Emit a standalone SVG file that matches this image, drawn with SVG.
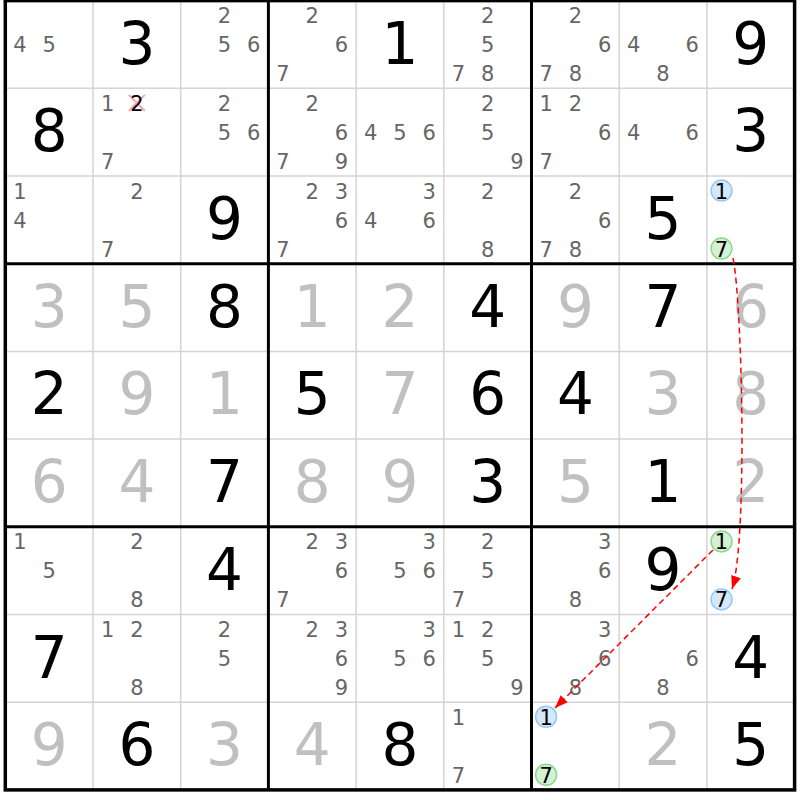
<svg xmlns="http://www.w3.org/2000/svg" width="800" height="800" viewBox="0 0 800 800">
<style>
text{font-family:"DejaVu Sans","Verdana",sans-serif;text-anchor:middle}
.g{font-size:58px;fill:#000}
.s{font-size:58px;fill:#c0c0c0}
.c{font-size:21px;fill:#666}
.k{font-size:21px;fill:#000}
.thin{stroke:#d4d4d4;stroke-width:1.5}
.thick{stroke:#000;stroke-width:3}
.cb{fill:#d5e8fb;stroke:#98c8f4;stroke-width:1.5}
.cg{fill:#d3f1d3;stroke:#8fd68f;stroke-width:1.5}
.lnk{fill:none;stroke:#f00;stroke-width:1.5;stroke-dasharray:6 4}
</style>
<defs>
<marker id="ah" markerUnits="userSpaceOnUse" markerWidth="14" markerHeight="10" refX="13" refY="5" orient="auto">
<path d="M0,0 L13,5 L0,10 z" fill="#f00"/>
</marker>
</defs>
<rect x="0" y="0" width="800" height="800" fill="#fff"/>
<g id="grid">
<path class="thin" d="M93,0.6V789.9M180.7,0.6V789.9M356.1,0.6V789.9M443.8,0.6V789.9M619.2,0.6V789.9M706.9,0.6V789.9M5.3,88.3H794.6M5.3,176H794.6M5.3,351.4H794.6M5.3,439.1H794.6M5.3,614.5H794.6M5.3,702.2H794.6"/>
<path class="thick" d="M268.4,0.6V789.9M531.5,0.6V789.9M5.3,263.7H794.6M5.3,526.8H794.6"/>
<rect x="5.3" y="0.6" width="789.3" height="789.3" fill="none" stroke="#000" stroke-width="3.5"/>
</g>
<!-- Row 1 -->
<g id="r1c1" transform="translate(5.3,0.6)"><text class="c" x="14.6" y="51.6">4</text><text class="c" x="43.85" y="51.6">5</text></g>
<g id="r1c2" transform="translate(93,0.6)"><text class="g" x="43.85" y="63">3</text></g>
<g id="r1c3" transform="translate(180.7,0.6)"><text class="c" x="43.85" y="22.6">2</text><text class="c" x="43.85" y="51.6">5</text><text class="c" x="73.1" y="51.6">6</text></g>
<g id="r1c4" transform="translate(268.4,0.6)"><text class="c" x="43.85" y="22.6">2</text><text class="c" x="73.1" y="51.6">6</text><text class="c" x="14.6" y="80.6">7</text></g>
<g id="r1c5" transform="translate(356.1,0.6)"><text class="g" x="43.85" y="63">1</text></g>
<g id="r1c6" transform="translate(443.8,0.6)"><text class="c" x="43.85" y="22.6">2</text><text class="c" x="43.85" y="51.6">5</text><text class="c" x="14.6" y="80.6">7</text><text class="c" x="43.85" y="80.6">8</text></g>
<g id="r1c7" transform="translate(531.5,0.6)"><text class="c" x="43.85" y="22.6">2</text><text class="c" x="73.1" y="51.6">6</text><text class="c" x="14.6" y="80.6">7</text><text class="c" x="43.85" y="80.6">8</text></g>
<g id="r1c8" transform="translate(619.2,0.6)"><text class="c" x="14.6" y="51.6">4</text><text class="c" x="73.1" y="51.6">6</text><text class="c" x="43.85" y="80.6">8</text></g>
<g id="r1c9" transform="translate(706.9,0.6)"><text class="g" x="43.85" y="63">9</text></g>
<!-- Row 2 -->
<g id="r2c1" transform="translate(5.3,88.3)"><text class="g" x="43.85" y="63">8</text></g>
<g id="r2c2" transform="translate(93,88.3)"><text class="c" x="14.6" y="22.6">1</text><path d="M35.85,6.6L51.85,22.6M51.85,6.6L35.85,22.6" stroke="#f4a2ac" stroke-width="2"/><text class="k" x="43.85" y="22.6">2</text><text class="c" x="14.6" y="80.6">7</text></g>
<g id="r2c3" transform="translate(180.7,88.3)"><text class="c" x="43.85" y="22.6">2</text><text class="c" x="43.85" y="51.6">5</text><text class="c" x="73.1" y="51.6">6</text></g>
<g id="r2c4" transform="translate(268.4,88.3)"><text class="c" x="43.85" y="22.6">2</text><text class="c" x="73.1" y="51.6">6</text><text class="c" x="14.6" y="80.6">7</text><text class="c" x="73.1" y="80.6">9</text></g>
<g id="r2c5" transform="translate(356.1,88.3)"><text class="c" x="14.6" y="51.6">4</text><text class="c" x="43.85" y="51.6">5</text><text class="c" x="73.1" y="51.6">6</text></g>
<g id="r2c6" transform="translate(443.8,88.3)"><text class="c" x="43.85" y="22.6">2</text><text class="c" x="43.85" y="51.6">5</text><text class="c" x="73.1" y="80.6">9</text></g>
<g id="r2c7" transform="translate(531.5,88.3)"><text class="c" x="14.6" y="22.6">1</text><text class="c" x="43.85" y="22.6">2</text><text class="c" x="73.1" y="51.6">6</text><text class="c" x="14.6" y="80.6">7</text></g>
<g id="r2c8" transform="translate(619.2,88.3)"><text class="c" x="14.6" y="51.6">4</text><text class="c" x="73.1" y="51.6">6</text></g>
<g id="r2c9" transform="translate(706.9,88.3)"><text class="g" x="43.85" y="63">3</text></g>
<!-- Row 3 -->
<g id="r3c1" transform="translate(5.3,176)"><text class="c" x="14.6" y="22.6">1</text><text class="c" x="14.6" y="51.6">4</text></g>
<g id="r3c2" transform="translate(93,176)"><text class="c" x="43.85" y="22.6">2</text><text class="c" x="14.6" y="80.6">7</text></g>
<g id="r3c3" transform="translate(180.7,176)"><text class="g" x="43.85" y="63">9</text></g>
<g id="r3c4" transform="translate(268.4,176)"><text class="c" x="43.85" y="22.6">2</text><text class="c" x="73.1" y="22.6">3</text><text class="c" x="73.1" y="51.6">6</text><text class="c" x="14.6" y="80.6">7</text></g>
<g id="r3c5" transform="translate(356.1,176)"><text class="c" x="73.1" y="22.6">3</text><text class="c" x="14.6" y="51.6">4</text><text class="c" x="73.1" y="51.6">6</text></g>
<g id="r3c6" transform="translate(443.8,176)"><text class="c" x="43.85" y="22.6">2</text><text class="c" x="43.85" y="80.6">8</text></g>
<g id="r3c7" transform="translate(531.5,176)"><text class="c" x="43.85" y="22.6">2</text><text class="c" x="73.1" y="51.6">6</text><text class="c" x="14.6" y="80.6">7</text><text class="c" x="43.85" y="80.6">8</text></g>
<g id="r3c8" transform="translate(619.2,176)"><text class="g" x="43.85" y="63">5</text></g>
<g id="r3c9" transform="translate(706.9,176)"><circle class="cb" cx="14.6" cy="14.6" r="10.5"/><text class="k" x="14.6" y="22.6">1</text><circle class="cg" cx="14.6" cy="72.6" r="10.5"/><text class="k" x="14.6" y="80.6">7</text></g>
<!-- Row 4 -->
<g id="r4c1" transform="translate(5.3,263.7)"><text class="s" x="43.85" y="63">3</text></g>
<g id="r4c2" transform="translate(93,263.7)"><text class="s" x="43.85" y="63">5</text></g>
<g id="r4c3" transform="translate(180.7,263.7)"><text class="g" x="43.85" y="63">8</text></g>
<g id="r4c4" transform="translate(268.4,263.7)"><text class="s" x="43.85" y="63">1</text></g>
<g id="r4c5" transform="translate(356.1,263.7)"><text class="s" x="43.85" y="63">2</text></g>
<g id="r4c6" transform="translate(443.8,263.7)"><text class="g" x="43.85" y="63">4</text></g>
<g id="r4c7" transform="translate(531.5,263.7)"><text class="s" x="43.85" y="63">9</text></g>
<g id="r4c8" transform="translate(619.2,263.7)"><text class="g" x="43.85" y="63">7</text></g>
<g id="r4c9" transform="translate(706.9,263.7)"><text class="s" x="43.85" y="63">6</text></g>
<!-- Row 5 -->
<g id="r5c1" transform="translate(5.3,351.4)"><text class="g" x="43.85" y="63">2</text></g>
<g id="r5c2" transform="translate(93,351.4)"><text class="s" x="43.85" y="63">9</text></g>
<g id="r5c3" transform="translate(180.7,351.4)"><text class="s" x="43.85" y="63">1</text></g>
<g id="r5c4" transform="translate(268.4,351.4)"><text class="g" x="43.85" y="63">5</text></g>
<g id="r5c5" transform="translate(356.1,351.4)"><text class="s" x="43.85" y="63">7</text></g>
<g id="r5c6" transform="translate(443.8,351.4)"><text class="g" x="43.85" y="63">6</text></g>
<g id="r5c7" transform="translate(531.5,351.4)"><text class="g" x="43.85" y="63">4</text></g>
<g id="r5c8" transform="translate(619.2,351.4)"><text class="s" x="43.85" y="63">3</text></g>
<g id="r5c9" transform="translate(706.9,351.4)"><text class="s" x="43.85" y="63">8</text></g>
<!-- Row 6 -->
<g id="r6c1" transform="translate(5.3,439.1)"><text class="s" x="43.85" y="63">6</text></g>
<g id="r6c2" transform="translate(93,439.1)"><text class="s" x="43.85" y="63">4</text></g>
<g id="r6c3" transform="translate(180.7,439.1)"><text class="g" x="43.85" y="63">7</text></g>
<g id="r6c4" transform="translate(268.4,439.1)"><text class="s" x="43.85" y="63">8</text></g>
<g id="r6c5" transform="translate(356.1,439.1)"><text class="s" x="43.85" y="63">9</text></g>
<g id="r6c6" transform="translate(443.8,439.1)"><text class="g" x="43.85" y="63">3</text></g>
<g id="r6c7" transform="translate(531.5,439.1)"><text class="s" x="43.85" y="63">5</text></g>
<g id="r6c8" transform="translate(619.2,439.1)"><text class="g" x="43.85" y="63">1</text></g>
<g id="r6c9" transform="translate(706.9,439.1)"><text class="s" x="43.85" y="63">2</text></g>
<!-- Row 7 -->
<g id="r7c1" transform="translate(5.3,526.8)"><text class="c" x="14.6" y="22.6">1</text><text class="c" x="43.85" y="51.6">5</text></g>
<g id="r7c2" transform="translate(93,526.8)"><text class="c" x="43.85" y="22.6">2</text><text class="c" x="43.85" y="80.6">8</text></g>
<g id="r7c3" transform="translate(180.7,526.8)"><text class="g" x="43.85" y="63">4</text></g>
<g id="r7c4" transform="translate(268.4,526.8)"><text class="c" x="43.85" y="22.6">2</text><text class="c" x="73.1" y="22.6">3</text><text class="c" x="73.1" y="51.6">6</text><text class="c" x="14.6" y="80.6">7</text></g>
<g id="r7c5" transform="translate(356.1,526.8)"><text class="c" x="73.1" y="22.6">3</text><text class="c" x="43.85" y="51.6">5</text><text class="c" x="73.1" y="51.6">6</text></g>
<g id="r7c6" transform="translate(443.8,526.8)"><text class="c" x="43.85" y="22.6">2</text><text class="c" x="43.85" y="51.6">5</text><text class="c" x="14.6" y="80.6">7</text></g>
<g id="r7c7" transform="translate(531.5,526.8)"><text class="c" x="73.1" y="22.6">3</text><text class="c" x="73.1" y="51.6">6</text><text class="c" x="43.85" y="80.6">8</text></g>
<g id="r7c8" transform="translate(619.2,526.8)"><text class="g" x="43.85" y="63">9</text></g>
<g id="r7c9" transform="translate(706.9,526.8)"><circle class="cg" cx="14.6" cy="14.6" r="10.5"/><text class="k" x="14.6" y="22.6">1</text><circle class="cb" cx="14.6" cy="72.6" r="10.5"/><text class="k" x="14.6" y="80.6">7</text></g>
<!-- Row 8 -->
<g id="r8c1" transform="translate(5.3,614.5)"><text class="g" x="43.85" y="63">7</text></g>
<g id="r8c2" transform="translate(93,614.5)"><text class="c" x="14.6" y="22.6">1</text><text class="c" x="43.85" y="22.6">2</text><text class="c" x="43.85" y="80.6">8</text></g>
<g id="r8c3" transform="translate(180.7,614.5)"><text class="c" x="43.85" y="22.6">2</text><text class="c" x="43.85" y="51.6">5</text></g>
<g id="r8c4" transform="translate(268.4,614.5)"><text class="c" x="43.85" y="22.6">2</text><text class="c" x="73.1" y="22.6">3</text><text class="c" x="73.1" y="51.6">6</text><text class="c" x="73.1" y="80.6">9</text></g>
<g id="r8c5" transform="translate(356.1,614.5)"><text class="c" x="73.1" y="22.6">3</text><text class="c" x="43.85" y="51.6">5</text><text class="c" x="73.1" y="51.6">6</text></g>
<g id="r8c6" transform="translate(443.8,614.5)"><text class="c" x="14.6" y="22.6">1</text><text class="c" x="43.85" y="22.6">2</text><text class="c" x="43.85" y="51.6">5</text><text class="c" x="73.1" y="80.6">9</text></g>
<g id="r8c7" transform="translate(531.5,614.5)"><text class="c" x="73.1" y="22.6">3</text><text class="c" x="73.1" y="51.6">6</text><text class="c" x="43.85" y="80.6">8</text></g>
<g id="r8c8" transform="translate(619.2,614.5)"><text class="c" x="73.1" y="51.6">6</text><text class="c" x="43.85" y="80.6">8</text></g>
<g id="r8c9" transform="translate(706.9,614.5)"><text class="g" x="43.85" y="63">4</text></g>
<!-- Row 9 -->
<g id="r9c1" transform="translate(5.3,702.2)"><text class="s" x="43.85" y="63">9</text></g>
<g id="r9c2" transform="translate(93,702.2)"><text class="g" x="43.85" y="63">6</text></g>
<g id="r9c3" transform="translate(180.7,702.2)"><text class="s" x="43.85" y="63">3</text></g>
<g id="r9c4" transform="translate(268.4,702.2)"><text class="s" x="43.85" y="63">4</text></g>
<g id="r9c5" transform="translate(356.1,702.2)"><text class="g" x="43.85" y="63">8</text></g>
<g id="r9c6" transform="translate(443.8,702.2)"><text class="c" x="14.6" y="22.6">1</text><text class="c" x="14.6" y="80.6">7</text></g>
<g id="r9c7" transform="translate(531.5,702.2)"><circle class="cb" cx="14.6" cy="14.6" r="10.5"/><text class="k" x="14.6" y="22.6">1</text><circle class="cg" cx="14.6" cy="72.6" r="10.5"/><text class="k" x="14.6" y="80.6">7</text></g>
<g id="r9c8" transform="translate(619.2,702.2)"><text class="s" x="43.85" y="63">2</text></g>
<g id="r9c9" transform="translate(706.9,702.2)"><text class="g" x="43.85" y="63">5</text></g>
<g id="connectors">
<path class="lnk" d="M733,258 C742,300 748,540 732,589" marker-end="url(#ah)"/>
<path class="lnk" d="M713,550 L555,708" marker-end="url(#ah)"/>
</g>
</svg>
